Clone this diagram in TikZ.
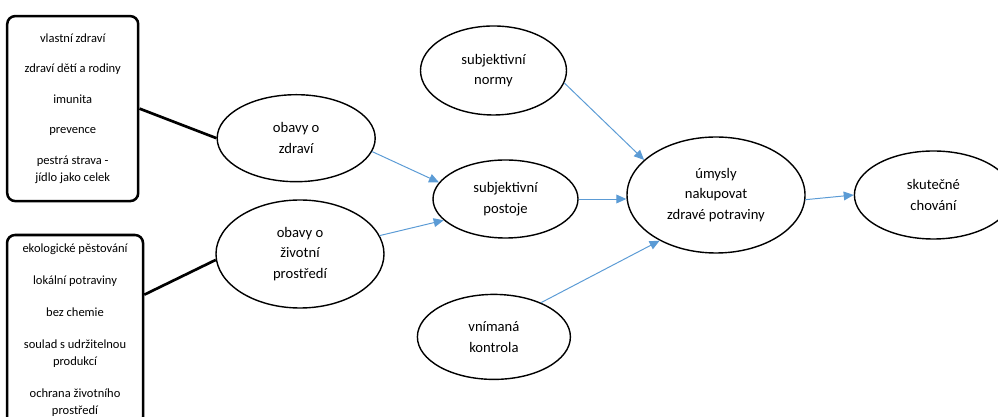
\documentclass[tikz,border=0pt]{standalone}
\usepackage{fontspec}
\setmainfont{Carlito}
\usetikzlibrary{positioning, shapes.geometric, arrows.meta}
\definecolor{linkblue}{RGB}{91,155,213}

\begin{document}
\begin{tikzpicture}[
  construct/.style={ellipse, draw=black, line width=1pt, inner sep=0pt, align=center, font=\fontsize{10.4}{14.6}\selectfont},
  factors/.style={rectangle, rounded corners=0.2cm, draw=black, line width=1.8pt, inner sep=0pt, align=center, font=\fontsize{8.9}{12.1}\selectfont},
  line/.style={line width=1.9pt},
  effect/.style={draw=linkblue, line width=0.7pt, -{Triangle[length=0.25cm, width=0.22cm]}}
]
\useasboundingbox (0,0) rectangle (24.95,10.425);

% Constructs placed relatively around the intention
\node[construct, minimum width=4.45cm, minimum height=2.9cm] (U) at (17.9,5.55) {úmysly\\nakupovat\\zdravé potraviny};
\node[construct, minimum width=3.95cm, minimum height=2.2cm, right=1.2cm of U] (C) {skutečné\\chování};
\node[construct, minimum width=3.625cm, minimum height=1.95cm, left=1.19cm of U, yshift=-0.1cm] (P) {subjektivní\\postoje};
\node[construct, minimum width=3.65cm, minimum height=2.225cm, above=1.09cm of P, xshift=-0.3cm] (N) {subjektivní\\normy};
\node[construct, minimum width=3.825cm, minimum height=2.125cm, below=1.375cm of P, xshift=-0.29cm] (K) {vnímaná\\kontrola};

\node[construct, minimum width=3.95cm, minimum height=2.175cm, left=1.41cm of P, yshift=1.52cm] (OZ) {obavy o\\zdraví};
\node[construct, minimum width=4.2cm, minimum height=2.7cm, left=1.19cm of P, yshift=-1.375cm] (OP) {obavy o\\životní\\prostředí};

% Lists of concerns
\node[factors, minimum width=3.275cm, minimum height=4.625cm, left=1.925cm of OZ, yshift=0.74cm] (L1) {vlastní zdraví\\[9.6pt] zdraví dětí a rodiny\\[9.6pt] imunita\\[9.6pt] prevence\\[9.6pt] pestrá strava -\\jídlo jako celek};
\node[factors, minimum width=3.4cm, minimum height=4.75cm, left=1.775cm of OP, yshift=-1.9cm] (L2) {ekologické pěstování\\[10.7pt] lokální potraviny\\[10.7pt] bez chemie\\[10.7pt] soulad s udržitelnou\\produkcí\\[10.7pt] ochrana životního\\prostředí};

% Connectors
\draw[line] (L1.east) -- (OZ.west);
\draw[line] (L2.27) -- (OP.184);

\draw[effect] (OZ.-10) -- (P.166);
\draw[effect] (OP.13) -- (P.199);
\draw[effect] (N.-10) -- (U.154);
\draw[effect] (P.east) -- (P.east -| U.west);
\draw[effect] (K.36) -- (U.219);
\draw[effect] (U.-3) -- (C.west);

\end{tikzpicture}
\end{document}
